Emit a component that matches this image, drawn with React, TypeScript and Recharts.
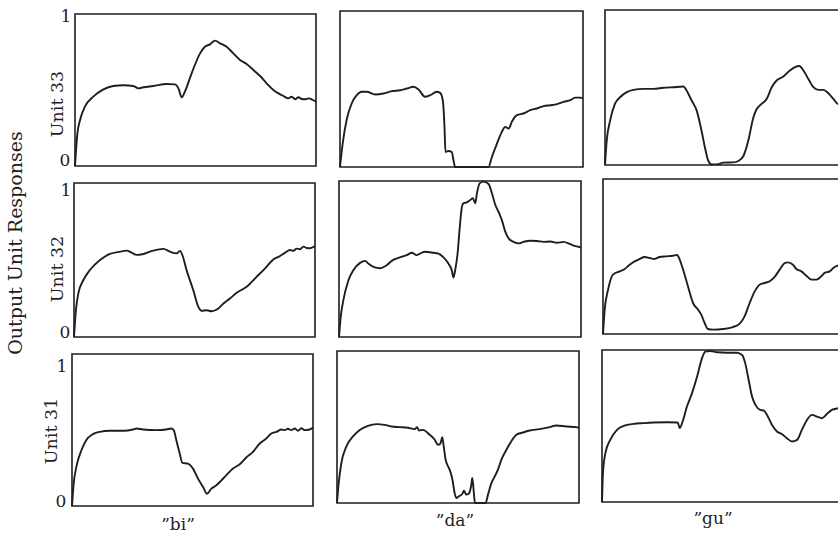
import { LineChart, Line, XAxis, YAxis, ReferenceArea } from "recharts"

type Pt = [number, number]

// x: percent of stimulus time, y: unit response (0..1)
const bi33: Pt[] = [
  [0, 0], [1.0, 0.215], [2.1, 0.303], [4.1, 0.39], [7.6, 0.456], [11.8, 0.504], [15.9, 0.526],
  [20.1, 0.531], [24.2, 0.526], [26.3, 0.511], [28.4, 0.518], [32.5, 0.526], [38.0, 0.539],
  [41.5, 0.537], [42.9, 0.511], [44.3, 0.452], [45.6, 0.489], [48.4, 0.61], [51.9, 0.741],
  [53.9, 0.785], [56.0, 0.8], [58.1, 0.825], [60.2, 0.807], [62.9, 0.785], [65.7, 0.741],
  [68.5, 0.697], [71.2, 0.671], [74.0, 0.632], [76.8, 0.592], [79.5, 0.544], [82.3, 0.5],
  [84.4, 0.478], [86.4, 0.461], [88.5, 0.445], [89.9, 0.456], [91.3, 0.439], [92.7, 0.452],
  [94.1, 0.441], [95.4, 0.439], [96.8, 0.445], [98.2, 0.439], [100, 0.423],
]

const da33: Pt[] = [
  [0, 0], [1.1, 0.15], [2.7, 0.3], [4.8, 0.407], [6.9, 0.46], [8.9, 0.482], [11.0, 0.482],
  [14.4, 0.465], [17.9, 0.471], [21.3, 0.486], [24.7, 0.492], [27.5, 0.503], [30.2, 0.514],
  [32.3, 0.497], [35.0, 0.45], [37.1, 0.46], [39.8, 0.482], [41.2, 0.475], [42.3, 0.428],
  [43.0, 0.257], [43.4, 0.096], [44.6, 0.103], [46.0, 0.096], [46.7, 0.043], [47.4, 0],
  [61.1, 0], [62.5, 0.064], [64.6, 0.15], [66.6, 0.225], [68.0, 0.257], [69.4, 0.246],
  [70.7, 0.289], [72.8, 0.332], [75.5, 0.343], [78.3, 0.364], [81.0, 0.375], [83.8, 0.39],
  [86.5, 0.396], [89.3, 0.403], [92.0, 0.418], [94.8, 0.428], [96.8, 0.445], [98.9, 0.445],
  [100, 0.439],
]

const gu33: Pt[] = [
  [0, 0], [0.7, 0.156], [2.1, 0.286], [4.1, 0.394], [6.2, 0.437], [9.0, 0.47], [11.7, 0.485],
  [15.8, 0.491], [20.0, 0.491], [24.1, 0.498], [28.2, 0.502], [32.4, 0.506], [33.7, 0.481],
  [35.8, 0.416], [37.9, 0.351], [39.9, 0.221], [41.3, 0.113], [42.7, 0.026], [44.1, 0.004],
  [46.1, 0.004], [48.9, 0.015], [53.0, 0.017], [55.1, 0.026], [57.2, 0.058], [59.2, 0.156],
  [61.3, 0.307], [62.7, 0.361], [64.7, 0.394], [66.8, 0.426], [68.9, 0.502], [70.9, 0.545],
  [73.7, 0.571], [76.4, 0.61], [78.5, 0.632], [80.3, 0.639], [82.0, 0.61], [84.0, 0.556],
  [86.1, 0.502], [88.2, 0.485], [90.2, 0.485], [92.3, 0.463], [94.4, 0.426], [96.3, 0.394],
  [100, 0.41],
]

const bi32: Pt[] = [
  [0, 0], [0.8, 0.174], [1.8, 0.283], [3.9, 0.37], [6.6, 0.435], [10.8, 0.5], [14.9, 0.539],
  [19.1, 0.554], [21.9, 0.561], [23.9, 0.548], [26.0, 0.533], [28.8, 0.539], [32.9, 0.561],
  [37.1, 0.572], [39.8, 0.554], [42.6, 0.543], [44.0, 0.559], [45.1, 0.526], [46.7, 0.435],
  [49.5, 0.304], [51.6, 0.196], [53.0, 0.17], [55.0, 0.174], [57.1, 0.167], [59.9, 0.185],
  [62.0, 0.217], [64.7, 0.25], [67.5, 0.287], [71.6, 0.326], [75.8, 0.391], [79.3, 0.446],
  [82.7, 0.504], [85.5, 0.526], [87.6, 0.548], [89.6, 0.565], [91.0, 0.559], [92.4, 0.574],
  [93.8, 0.57], [95.2, 0.587], [96.5, 0.578], [97.9, 0.576], [100, 0.591],
]

const da32: Pt[] = [
  [0, 0], [0.7, 0.128], [1.8, 0.236], [3.9, 0.364], [5.9, 0.428], [8.7, 0.475], [10.8, 0.488],
  [12.1, 0.471], [14.2, 0.45], [17.0, 0.441], [19.7, 0.46], [21.8, 0.488], [25.2, 0.51],
  [28.0, 0.525], [30.1, 0.54], [32.1, 0.525], [33.5, 0.535], [35.6, 0.546], [39.0, 0.54],
  [41.1, 0.535], [43.2, 0.51], [45.2, 0.471], [46.6, 0.428], [47.3, 0.381], [48.0, 0.428],
  [49.0, 0.535], [49.8, 0.685], [50.8, 0.835], [51.4, 0.857], [52.8, 0.863], [54.2, 0.878],
  [55.3, 0.889], [56.3, 0.857], [57.0, 0.921], [58.1, 0.985], [59.7, 0.996], [61.8, 0.981],
  [63.2, 0.921], [64.6, 0.846], [65.9, 0.803], [67.3, 0.749], [68.7, 0.675], [70.1, 0.632],
  [72.1, 0.61], [74.2, 0.6], [76.3, 0.61], [79.0, 0.617], [81.8, 0.615], [84.6, 0.61],
  [87.3, 0.612], [90.1, 0.604], [92.8, 0.61], [95.6, 0.595], [97.7, 0.582], [100, 0.574],
]

const gu32: Pt[] = [
  [0, 0], [0.7, 0.157], [2.1, 0.286], [4.1, 0.383], [6.9, 0.404], [9.0, 0.419], [11.0, 0.447],
  [13.1, 0.469], [15.2, 0.484], [17.2, 0.497], [19.3, 0.49], [21.3, 0.484], [23.4, 0.497],
  [26.2, 0.501], [28.9, 0.505], [30.6, 0.51], [31.7, 0.48], [33.1, 0.415], [35.1, 0.308],
  [37.2, 0.2], [39.3, 0.157], [40.6, 0.125], [42.0, 0.071], [43.4, 0.032], [45.5, 0.028],
  [49.6, 0.032], [53.7, 0.045], [56.5, 0.067], [58.5, 0.114], [60.6, 0.2], [62.7, 0.275],
  [64.7, 0.318], [66.8, 0.329], [68.9, 0.34], [70.9, 0.368], [73.0, 0.415], [75.1, 0.458],
  [76.4, 0.462], [78.5, 0.447], [79.9, 0.419], [82.0, 0.404], [84.0, 0.376], [86.1, 0.351],
  [88.2, 0.351], [90.2, 0.372], [91.6, 0.394], [93.7, 0.404], [95.7, 0.432], [97.0, 0.441],
  [100, 0.454],
]

const bi31: Pt[] = [
  [0, 0], [0.7, 0.147], [1.8, 0.257], [3.9, 0.367], [5.9, 0.433], [8.7, 0.473], [11.5, 0.488],
  [15.6, 0.495], [21.2, 0.495], [25.3, 0.503], [26.7, 0.51], [29.5, 0.503], [35.0, 0.499],
  [39.1, 0.503], [41.2, 0.51], [42.2, 0.499], [43.3, 0.433], [44.7, 0.345], [45.8, 0.284],
  [48.1, 0.279], [50.2, 0.246], [52.3, 0.18], [54.4, 0.125], [56.0, 0.081], [57.8, 0.114],
  [59.9, 0.136], [62.0, 0.169], [64.0, 0.202], [66.8, 0.246], [69.6, 0.275], [72.3, 0.319],
  [75.1, 0.356], [77.9, 0.411], [80.6, 0.444], [82.7, 0.477], [84.8, 0.488], [86.9, 0.503],
  [88.2, 0.499], [89.6, 0.508], [91.0, 0.499], [92.4, 0.51], [93.8, 0.495], [95.2, 0.512],
  [96.5, 0.499], [98.6, 0.503], [100, 0.516],
]

const da31: Pt[] = [
  [0, 0], [0.7, 0.131], [1.8, 0.263], [3.9, 0.372], [6.6, 0.438], [9.4, 0.481], [12.8, 0.508],
  [16.3, 0.519], [19.7, 0.514], [22.5, 0.503], [25.9, 0.499], [29.3, 0.495], [32.1, 0.486],
  [33.1, 0.499], [33.9, 0.477], [35.5, 0.481], [38.3, 0.449], [40.4, 0.416], [41.7, 0.383],
  [42.7, 0.39], [43.5, 0.433], [44.1, 0.372], [44.9, 0.284], [45.9, 0.241], [46.8, 0.208],
  [47.7, 0.153], [48.6, 0.066], [49.3, 0.033], [50.4, 0.044], [51.8, 0.061], [52.5, 0.081],
  [53.4, 0.055], [54.4, 0.061], [55.5, 0.12], [55.9, 0.164], [56.5, 0.077], [57.0, 0],
  [61.4, 0], [62.4, 0.055], [63.8, 0.131], [65.2, 0.175], [66.5, 0.219], [67.9, 0.284],
  [70.0, 0.35], [72.0, 0.405], [74.1, 0.449], [76.9, 0.464], [79.6, 0.477], [83.7, 0.486],
  [87.9, 0.499], [90.6, 0.51], [94.8, 0.503], [98.9, 0.499], [100, 0.492],
]

const gu31: Pt[] = [
  [0, 0], [0.4, 0.19], [1.4, 0.322], [3.4, 0.409], [6.2, 0.475], [9.0, 0.501], [13.1, 0.514],
  [17.2, 0.519], [21.3, 0.523], [26.9, 0.525], [31.3, 0.523], [32.1, 0.486], [33.1, 0.519],
  [35.1, 0.628], [37.2, 0.716], [39.3, 0.825], [41.3, 0.945], [42.7, 0.989], [44.8, 0.993],
  [47.5, 0.985], [51.7, 0.982], [55.8, 0.982], [57.9, 0.967], [59.2, 0.912], [60.6, 0.803],
  [62.0, 0.694], [63.4, 0.639], [65.4, 0.606], [66.8, 0.602], [68.2, 0.573], [70.2, 0.508],
  [72.3, 0.464], [74.4, 0.446], [76.4, 0.42], [78.5, 0.398], [80.6, 0.409], [82.6, 0.475],
  [84.7, 0.54], [86.8, 0.573], [88.8, 0.562], [90.9, 0.551], [93.0, 0.58], [95.0, 0.606],
  [97.7, 0.617], [100, 0.628],
]

const sounds = ["”bi”", "”da”", "”gu”"]
const units = ["Unit 33", "Unit 32", "Unit 31"]
const grid: Pt[][][] = [
  [bi33, da33, gu33],
  [bi32, da32, gu32],
  [bi31, da31, gu31],
]

// panel boxes [left, top, width, height]
const boxes = [
  [[75, 14, 241, 152], [340, 11, 243, 156], [605, 10, 242, 155]],
  [[74, 183, 241, 154], [339, 181, 242, 156], [603, 179, 242, 155]],
  [[72, 354, 241, 152], [337, 351, 242, 152], [602, 350, 242, 152]],
]

const INK = "#1e1e1e"
const FONT = "'DejaVu Serif', serif"

function Panel({ data, box }: { data: Pt[]; box: number[] }) {
  const [left, top, w, h] = box
  const rows = data.map(([x, y]) => ({ x, y }))
  return (
    <div style={{ position: "absolute", left: left - 1, top: top - 1 }}>
      <LineChart width={w + 2} height={h + 2} data={rows} margin={{ top: 1, right: 1, bottom: 1, left: 1 }}>
        <XAxis dataKey="x" type="number" domain={[0, 100]} hide />
        <YAxis type="number" domain={[0, 1]} hide />
        <ReferenceArea x1={0} x2={100} y1={0} y2={1} fill="none" stroke={INK} strokeWidth={1.6} fillOpacity={0} strokeOpacity={1} />
        <Line
          type="monotone"
          dataKey="y"
          stroke={INK}
          strokeWidth={1.9}
          dot={false}
          isAnimationActive={false}
        />
      </LineChart>
    </div>
  )
}

export default function App() {
  const unitX = [57, 57, 51]
  const unitY = [104, 269, 431]
  const oneY = [16, 190, 366]
  const zeroY = [160, 332, 501]
  const soundX = [178, 455, 713]
  const soundY = [524, 520, 518]
  return (
    <div style={{ position: "absolute", left: 0, top: 0, width: 838, height: 540, overflow: "hidden", background: "#fff" }}>
      {grid.map((row, r) => row.map((d, c) => <Panel key={`${r}-${c}`} data={d} box={boxes[r][c]} />))}
      <svg width={838} height={540} style={{ position: "absolute", left: 0, top: 0, pointerEvents: "none" }} fontFamily={FONT} fill={INK}>
        <text transform="translate(15,243) rotate(-90)" textAnchor="middle" dominantBaseline="central" fontSize={19}>
          Output Unit Responses
        </text>
        {units.map((u, r) => (
          <text key={u} transform={`translate(${unitX[r]},${unitY[r]}) rotate(-90)`} textAnchor="middle" dominantBaseline="central" fontSize={17.5}>
            {u}
          </text>
        ))}
        {oneY.map((y, r) => (
          <text key={`one${r}`} x={r === 2 ? 62 : 66} y={y} textAnchor="middle" dominantBaseline="central" fontSize={17}>1</text>
        ))}
        {zeroY.map((y, r) => (
          <text key={`zero${r}`} x={r === 2 ? 61 : 65} y={y} textAnchor="middle" dominantBaseline="central" fontSize={17}>0</text>
        ))}
        {sounds.map((s, c) => (
          <text key={s} x={soundX[c]} y={soundY[c]} textAnchor="middle" dominantBaseline="central" fontSize={17}>
            {s}
          </text>
        ))}
      </svg>
    </div>
  )
}
